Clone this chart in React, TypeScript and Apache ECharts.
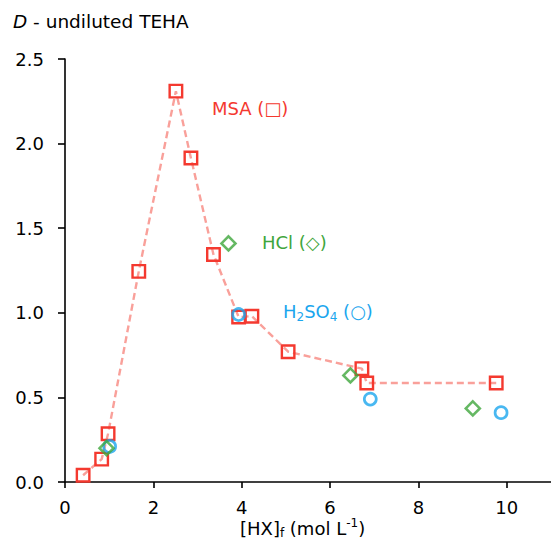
import React, { useEffect, useRef } from "react";
import * as echarts from "echarts";

// Distribution ratio D versus free acid concentration, undiluted TEHA
const msaX = [0.41, 0.83, 0.975, 1.67, 2.51, 2.85, 3.36, 3.93, 4.23, 5.05, 6.72, 6.83, 9.76];
const msaY = [0.04, 0.135, 0.285, 1.245, 2.31, 1.915, 1.345, 0.975, 0.98, 0.77, 0.67, 0.585, 0.585];
const hclX = [0.94, 3.7, 6.46, 9.23];
const hclY = [0.2, 1.41, 0.63, 0.435];
const h2so4X = [1.01, 3.93, 6.91, 9.87];
const h2so4Y = [0.21, 0.99, 0.49, 0.41];
const xTicks = [0, 2, 4, 6, 8, 10];

const RED = "#F4392F";
const RED_LINE = "#F9A09A";
const GREEN = "#3FA63C";
const BLUE = "#1BA6EE";
const FONT = "DejaVu Sans";
const FS = 18;

const zip = (xs: number[], ys: number[]) => xs.map((x, i) => [x, ys[i]]);

export default function App() {
  const ref = useRef<HTMLDivElement>(null);

  useEffect(() => {
    if (!ref.current) return;
    const chart = echarts.init(ref.current, null, { renderer: "svg" });
    const axisLine = { show: true, lineStyle: { color: "#000", width: 1.6 } };
    chart.setOption({
      animation: false,
      backgroundColor: "#fff",
      grid: { left: 65, top: 59, right: -2, bottom: 70, containLabel: false },
      xAxis: {
        type: "value",
        min: 0,
        max: 11,
        splitLine: { show: false },
        axisLine: { ...axisLine, onZero: false },
        axisTick: { show: true, length: 6, customValues: xTicks, lineStyle: { color: "#000", width: 1.6 } },
        axisLabel: {
          customValues: xTicks,
          margin: 17,
          color: "#000",
          fontFamily: FONT,
          fontSize: FS,
          lineHeight: 17,
        },
      },
      yAxis: {
        type: "value",
        min: 0,
        max: 2.5,
        interval: 0.5,
        splitLine: { show: false },
        axisLine,
        axisTick: { show: true, length: 7, lineStyle: { color: "#000", width: 1.6 } },
        axisLabel: {
          margin: 21,
          color: "#000",
          fontFamily: FONT,
          fontSize: FS,
          formatter: (v: number) => v.toFixed(1),
        },
      },
      series: [
        {
          name: "MSA",
          type: "line",
          data: zip(msaX, msaY),
          symbol: "rect",
          symbolSize: 12.5,
          lineStyle: { color: RED_LINE, width: 2.4, type: [7, 4] },
          itemStyle: { color: "rgba(255,255,255,0)", borderColor: RED, borderWidth: 2.4 },
          z: 2,
        },
        {
          name: "H2SO4",
          type: "scatter",
          data: zip(h2so4X, h2so4Y),
          symbol: "circle",
          symbolSize: 12,
          itemStyle: { color: "rgba(255,255,255,0)", borderColor: BLUE, borderWidth: 2.7 },
          z: 3,
        },
        {
          name: "HCl",
          type: "scatter",
          data: zip(hclX, hclY),
          symbol: "diamond",
          symbolSize: 14,
          itemStyle: { color: "rgba(255,255,255,0)", borderColor: GREEN, borderWidth: 2.6 },
          z: 4,
        },
      ],
      graphic: [
        {
          type: "text",
          left: 13,
          top: 12,
          style: {
            text: "{i|D} - undiluted TEHA",
            fill: "#000",
            fontFamily: FONT,
            fontSize: 18.5,
            rich: { i: { fontStyle: "italic", fontFamily: FONT, fontSize: 18.5, fill: "#000" } },
          },
        },
        {
          type: "text",
          left: 212,
          top: 99,
          style: { text: "MSA (□)", fill: RED, fontFamily: FONT, fontSize: FS },
        },
        {
          type: "text",
          left: 262,
          top: 233,
          style: { text: "HCl (◇)", fill: GREEN, fontFamily: FONT, fontSize: FS },
        },
        {
          type: "text",
          left: 283,
          top: 300,
          style: {
            text: "H{s|2}SO{s|4} (○)",
            fill: BLUE,
            fontFamily: FONT,
            fontSize: FS,
            lineHeight: 23,
            rich: {
              s: { fontSize: 12, lineHeight: 12, verticalAlign: "bottom", fill: BLUE, fontFamily: FONT },
            },
          },
        },
        {
          type: "text",
          left: 240,
          top: 517,
          style: {
            text: "[HX]{s|f} (mol L{p|-1})",
            fill: "#000",
            fontFamily: FONT,
            fontSize: FS,
            lineHeight: 22,
            rich: {
              s: { fontSize: 12, lineHeight: 12, verticalAlign: "bottom", fill: "#000", fontFamily: FONT },
              p: { fontSize: 12, lineHeight: 12, verticalAlign: "top", fill: "#000", fontFamily: FONT },
            },
          },
        },
      ],
    });
    return () => chart.dispose();
  }, []);

  return (
    <div
      ref={ref}
      style={{ position: "absolute", left: 0, top: 0, width: 551, height: 552 }}
    />
  );
}
